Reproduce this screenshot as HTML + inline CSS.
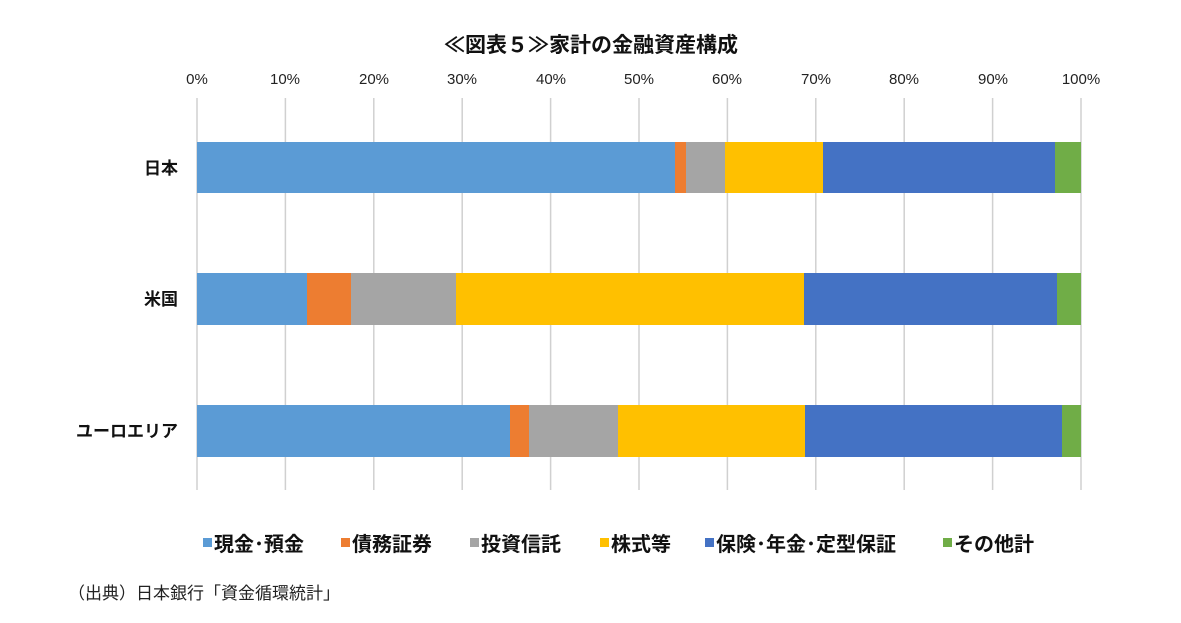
<!DOCTYPE html>
<html><head><meta charset="utf-8"><style>
body{margin:0;background:#fff;}
svg text{font-family:"Liberation Sans","Noto Sans CJK JP",sans-serif;}
</style></head><body>
<svg width="1181" height="618" xmlns="http://www.w3.org/2000/svg">
<rect width="1181" height="618" fill="#fff"/>
<text x="591" y="52" text-anchor="middle" font-size="21" font-weight="bold" fill="#111">≪図表５≫家計の金融資産構成</text>
<g stroke="#d0d0d0" stroke-width="1.5">
<line x1="197" y1="98" x2="197" y2="490"/><line x1="285.4" y1="98" x2="285.4" y2="490"/><line x1="373.8" y1="98" x2="373.8" y2="490"/><line x1="462.2" y1="98" x2="462.2" y2="490"/><line x1="550.6" y1="98" x2="550.6" y2="490"/><line x1="639" y1="98" x2="639" y2="490"/><line x1="727.4" y1="98" x2="727.4" y2="490"/><line x1="815.8" y1="98" x2="815.8" y2="490"/><line x1="904.2" y1="98" x2="904.2" y2="490"/><line x1="992.6" y1="98" x2="992.6" y2="490"/><line x1="1081" y1="98" x2="1081" y2="490"/>
</g>
<g font-size="15" text-anchor="middle" fill="#222">
<text x="197" y="84">0%</text><text x="285" y="84">10%</text><text x="374" y="84">20%</text><text x="462" y="84">30%</text><text x="551" y="84">40%</text><text x="639" y="84">50%</text><text x="727" y="84">60%</text><text x="816" y="84">70%</text><text x="904" y="84">80%</text><text x="993" y="84">90%</text><text x="1081" y="84">100%</text>
</g>
<g>
<rect x="197" y="142" width="478" height="51" fill="#5B9BD5"/><rect x="675" y="142" width="11" height="51" fill="#ED7D31"/><rect x="686" y="142" width="39" height="51" fill="#A5A5A5"/><rect x="725" y="142" width="98" height="51" fill="#FFC000"/><rect x="823" y="142" width="232" height="51" fill="#4472C4"/><rect x="1055" y="142" width="26" height="51" fill="#70AD47"/>
<rect x="197" y="273" width="110" height="52" fill="#5B9BD5"/><rect x="307" y="273" width="44" height="52" fill="#ED7D31"/><rect x="351" y="273" width="105" height="52" fill="#A5A5A5"/><rect x="456" y="273" width="348" height="52" fill="#FFC000"/><rect x="804" y="273" width="253" height="52" fill="#4472C4"/><rect x="1057" y="273" width="24" height="52" fill="#70AD47"/>
<rect x="197" y="405" width="313" height="52" fill="#5B9BD5"/><rect x="510" y="405" width="19" height="52" fill="#ED7D31"/><rect x="529" y="405" width="89" height="52" fill="#A5A5A5"/><rect x="618" y="405" width="187" height="52" fill="#FFC000"/><rect x="805" y="405" width="257" height="52" fill="#4472C4"/><rect x="1062" y="405" width="19" height="52" fill="#70AD47"/>
</g>
<g font-size="17" font-weight="bold" text-anchor="end" fill="#111">
<text x="178" y="174">日本</text><text x="178" y="305">米国</text><text x="178" y="437">ユーロエリア</text>
</g>
<g font-size="20" font-weight="bold" fill="#111">
<rect x="203" y="538" width="9" height="9" fill="#5B9BD5"/><text x="214" y="551">現金･預金</text>
<rect x="341" y="538" width="9" height="9" fill="#ED7D31"/><text x="352" y="551">債務証券</text>
<rect x="470" y="538" width="9" height="9" fill="#A5A5A5"/><text x="481" y="551">投資信託</text>
<rect x="600" y="538" width="9" height="9" fill="#FFC000"/><text x="611" y="551">株式等</text>
<rect x="705" y="538" width="9" height="9" fill="#4472C4"/><text x="716" y="551">保険･年金･定型保証</text>
<rect x="943" y="538" width="9" height="9" fill="#70AD47"/><text x="954" y="551">その他計</text>
</g>
<text x="68" y="599" font-size="17" fill="#222" font-family="'Liberation Serif','Noto Serif CJK SC',serif">（出典）日本銀行「資金循環統計」</text>
</svg>
</body></html>
